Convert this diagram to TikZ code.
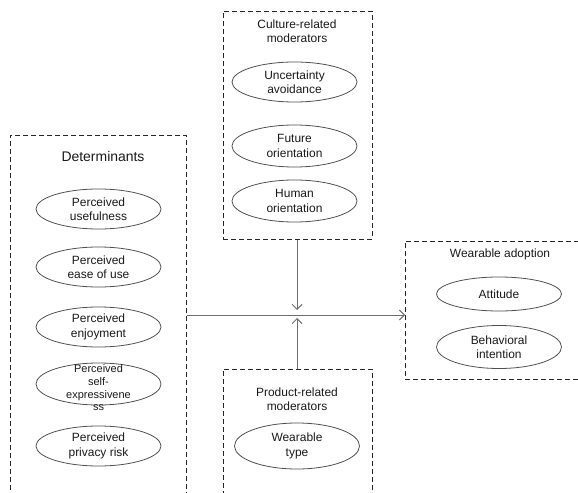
\documentclass[tikz,border=0pt]{standalone}
\usepackage{fontspec}
\setmainfont{Liberation Sans}
\usetikzlibrary{arrows.meta,shapes.geometric}
\definecolor{linegray}{HTML}{6E6E6E}
\definecolor{edgegray}{HTML}{505050}
\tikzset{
  dbox/.style={draw=black!85, dash pattern=on 5bp off 3bp, line width=0.8bp, rectangle, anchor=north west, inner sep=0},
  oval/.style={draw=edgegray, line width=0.8bp, ellipse, minimum width=125bp, minimum height=40bp, inner sep=0, align=center, font=\fontsize{12}{14.5}\selectfont, text=black!90},
  ttl/.style={align=center, font=\fontsize{12}{14.5}\selectfont, text=black!90},
  conn/.style={draw=linegray, line width=1bp, -{Straight Barb[length=5bp,width=10bp]}},
}
\begin{document}
\begin{tikzpicture}[x=1bp,y=-1bp]
\useasboundingbox (0,0) rectangle (578,493);
\clip (0,0) rectangle (578,493);
% Determinants
\node[dbox, minimum width=176bp, minimum height=370bp] (det) at (10,135) {};
\node[ttl, font=\fontsize{14}{17}\selectfont] (dett) at (103,157) {Determinants};
\node[oval] (pu) at (98.5,209) {Perceived\\usefulness};
\node[oval] (pe) at (98.5,267) {Perceived\\ease of use};
\node[oval] (pj) at (98.5,327) {Perceived\\enjoyment};
\node[oval, minimum height=42bp] (ps) at (98.5,384) {};
\node[ttl, font=\fontsize{11}{12.7}\selectfont] (pst) at (98.5,388) {Perceived\\self-\\expressivene\\ss};
\node[oval] (pp) at (98.5,446) {Perceived\\privacy risk};
% Culture
\node[dbox, minimum width=149bp, minimum height=228bp] (cul) at (222.5,11) {};
\node[ttl] (cult) at (297,31) {Culture-related\\moderators};
\node[oval, minimum height=40bp] (ua) at (294.5,82) {Uncertainty\\avoidance};
\node[oval, minimum height=42bp] (fo) at (294.5,146) {Future\\orientation};
\node[oval, minimum height=42bp] (ho) at (294.5,201) {Human\\orientation};
% Product
\node[dbox, minimum width=149bp, minimum height=140bp] (prod) at (222.5,369) {};
\node[ttl] (prodt) at (297,399) {Product-related\\moderators};
\node[oval, minimum height=46bp] (wt) at (297,446) {Wearable\\type};
% Adoption
\node[dbox, minimum width=190bp, minimum height=138bp] (adopt) at (405,241) {};
\node[ttl] (adoptt) at (500,254) {Wearable adoption};
\node[oval, minimum height=34bp] (att) at (499,294) {Attitude};
\node[oval, minimum height=43bp] (bi) at (499,347) {Behavioral\\intention};
% connectors
\coordinate (hub) at (297,315);
\coordinate (downtip) at (297,310);
\coordinate (uptip) at (297,318);
\draw[conn] (det.east |- hub) -- (adopt.west |- hub);
\draw[conn] (cul.south -| hub) -- (downtip);
\draw[conn] (prod.north -| hub) -- (uptip);
\end{tikzpicture}
\end{document}
